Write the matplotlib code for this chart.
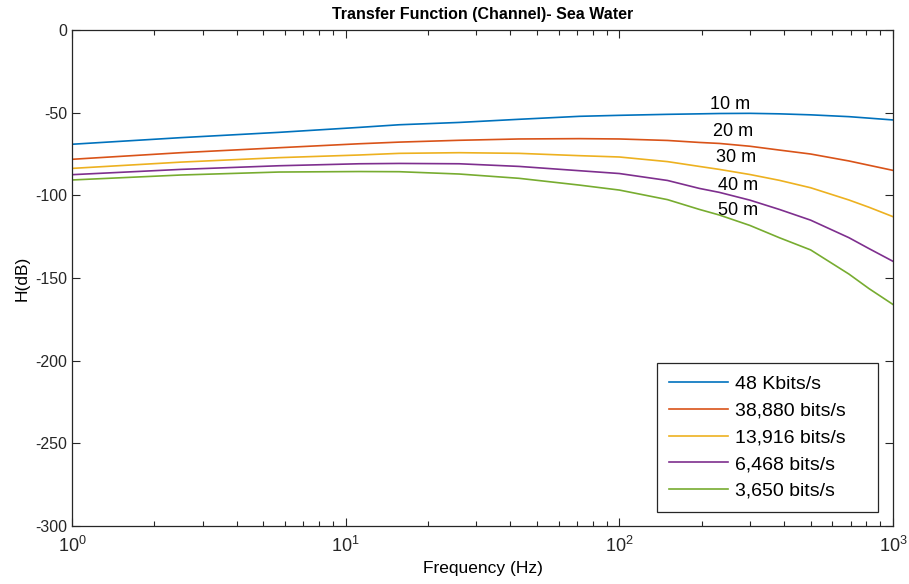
import matplotlib
matplotlib.use("Agg")
import matplotlib.pyplot as plt
from matplotlib.ticker import LogLocator, FixedLocator, NullFormatter

plt.rcParams['font.family'] = ['Liberation Sans', 'DejaVu Sans']
plt.rcParams['axes.unicode_minus'] = False

freq = [1, 2.5, 5.7, 11.2, 15.7, 26, 43, 71.5, 100, 150, 196, 232, 300, 384, 500, 690, 817, 1000]
h_48k = [-69.1, -65.1, -61.9, -58.9, -57.3, -55.9, -54.0, -52.2, -51.6, -51.0, -50.7, -50.5, -50.4, -50.7, -51.3, -52.4, -53.3, -54.4]
h_38880 = [-78.2, -74.2, -71.2, -68.8, -67.8, -66.7, -65.9, -65.7, -65.9, -66.8, -68.0, -68.6, -70.3, -72.6, -75.0, -79.2, -81.8, -84.9]
h_13916 = [-83.7, -79.9, -77.2, -75.6, -74.6, -74.2, -74.6, -76.0, -76.8, -79.6, -82.5, -84.3, -87.4, -90.9, -95.4, -102.8, -107.2, -112.9]
h_6468 = [-87.5, -84.3, -82.1, -80.9, -80.7, -80.9, -82.5, -85.1, -86.8, -91.0, -95.8, -98.2, -102.9, -108.5, -115.0, -125.6, -132.2, -139.9]
h_3650 = [-90.7, -87.7, -85.9, -85.6, -85.7, -87.1, -89.7, -93.8, -96.8, -102.6, -108.5, -111.9, -118.2, -125.6, -133.0, -147.6, -156.4, -166.0]

series = [h_48k, h_38880, h_13916, h_6468, h_3650]
legend_labels = ['48 Kbits/s', '38,880 bits/s', '13,916 bits/s', '6,468 bits/s', '3,650 bits/s']
colors = ['#0072BD', '#D95319', '#EDB120', '#7E2F8E', '#77AC30']

dist_labels = ['10 m', '20 m', '30 m', '40 m', '50 m']
dist_x = [254, 261, 267, 272, 272]
dist_y = [-44.8, -61.1, -77.4, -93.8, -108.9]

fig = plt.figure(figsize=(9.09, 5.84), dpi=100)
ax = fig.add_axes([0.0792, 0.0993, 0.9032, 0.8493])

for vals, lab, c in zip(series, legend_labels, colors):
    ax.plot(freq, vals, color=c, lw=1.2, label=lab)

for t, x, y in zip(dist_labels, dist_x, dist_y):
    ax.text(x, y, t, ha='center', va='center', fontsize=13)

ax.set_xscale('log')
ax.set_xlim(1, 1000)
ax.set_ylim(-300, 0)
ax.yaxis.set_major_locator(FixedLocator([-300, -250, -200, -150, -100, -50, 0]))
ax.xaxis.set_major_locator(LogLocator(base=10, numticks=10))
ax.xaxis.set_minor_locator(LogLocator(base=10, subs=range(2, 10), numticks=20))
ax.xaxis.set_minor_formatter(NullFormatter())

ax.tick_params(which='both', direction='in', top=True, right=True, labelsize=11.5, width=0.8, colors='#262626')
ax.tick_params(which='major', length=6)
ax.tick_params(which='minor', length=3.5)
ax.tick_params(axis='x', which='major', pad=7, labelsize=13)
for s in ax.spines.values():
    s.set_color('#262626')
    s.set_linewidth(0.9)

ax.set_title('Transfer Function (Channel)- Sea Water', fontsize=11.5, fontweight='bold', pad=8)
ax.set_xlabel('Frequency (Hz)', fontsize=12.5, labelpad=4)
ax.set_ylabel('H(dB)', fontsize=12.5, labelpad=4)

leg = ax.legend(loc='lower left', bbox_to_anchor=(0.7125, 0.0282, 0.2692, 0.3024), mode='expand',
                borderaxespad=0, fontsize=14, handlelength=3.05, handletextpad=0.35, labelspacing=0.47,
                fancybox=False, framealpha=1, edgecolor='#262626', borderpad=0.62)
leg.get_frame().set_linewidth(0.9)

fig.savefig('out.png', dpi=100)
